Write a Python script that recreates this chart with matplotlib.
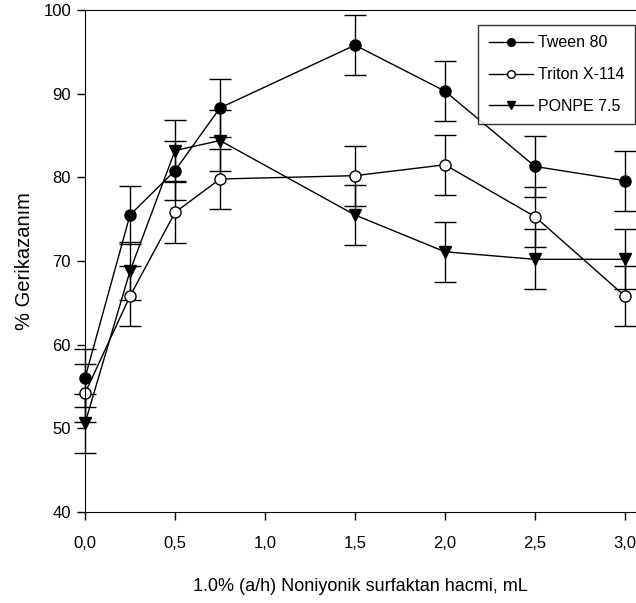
import matplotlib.pyplot as plt
from matplotlib.lines import Line2D

plt.rcParams['font.family'] = ['Liberation Sans', 'DejaVu Sans']

hacim = [0.0, 0.25, 0.5, 0.75, 1.5, 2.0, 2.5, 3.0]

tween = [56.0, 75.5, 80.8, 88.3, 95.8, 90.3, 81.3, 79.6]
tween_err = [3.5, 3.5, 3.5, 3.5, 3.6, 3.6, 3.6, 3.6]

triton = [54.2, 65.8, 75.8, 79.8, 80.2, 81.5, 75.3, 65.8]
triton_err = [3.5, 3.6, 3.6, 3.6, 3.6, 3.6, 3.6, 3.6]

ponpe = [50.6, 68.8, 83.2, 84.4, 75.5, 71.1, 70.2, 70.2]
ponpe_err = [3.5, 3.5, 3.6, 3.6, 3.6, 3.6, 3.6, 3.6]

fig = plt.figure(figsize=(6.36, 6.03), dpi=100)
ax = fig.add_axes([85 / 636, 91 / 603, 551 / 636, 502 / 603])

stil = dict(color='black', lw=1.0, elinewidth=1.0, capsize=8, capthick=1.0,
            markersize=8, markeredgewidth=1.0, clip_on=False)
ax.errorbar(hacim, tween, yerr=tween_err, fmt='-o', mfc='black', **stil)
ax.errorbar(hacim, triton, yerr=triton_err, fmt='-o', mfc='white', **stil)
ax.errorbar(hacim, ponpe, yerr=ponpe_err, fmt='-v', mfc='black', **stil)

ax.set_xlim(0, 551 / 180)
ax.set_ylim(40, 100)
ax.set_xticks([0, 0.5, 1.0, 1.5, 2.0, 2.5, 3.0])
ax.set_xticklabels(['0,0', '0,5', '1,0', '1,5', '2,0', '2,5', '3,0'])
ax.set_yticks([40, 50, 60, 70, 80, 90, 100])
ax.spines['right'].set_visible(False)
ax.tick_params(direction='out', length=6, width=1, labelsize=12, pad=4)
ax.tick_params(axis='x', pad=11)

ax.set_xlabel('1.0% (a/h) Noniyonik surfaktan hacmi, mL', fontsize=13, labelpad=20)
ax.set_ylabel('% Gerikazanım', fontsize=14.5, labelpad=7)

tutamaclar = [
    Line2D([], [], color='black', lw=1.0, marker='o', mfc='black', mec='black', markersize=5.5),
    Line2D([], [], color='black', lw=1.0, marker='o', mfc='white', mec='black', markersize=5.5),
    Line2D([], [], color='black', lw=1.0, marker='v', mfc='black', mec='black', markersize=5.5),
]
etiketler = ['Tween 80', 'Triton X-114', 'PONPE 7.5']
leg = ax.legend(tutamaclar, etiketler, loc='upper right', bbox_to_anchor=(550 / 551, 0.97),
                fontsize=11.5, frameon=True, fancybox=False, edgecolor='black',
                handlelength=2.8, handletextpad=0.3, borderpad=0.65, labelspacing=1.05,
                borderaxespad=0)
leg.get_frame().set_linewidth(1.0)

fig.savefig('out.png', dpi=100)
